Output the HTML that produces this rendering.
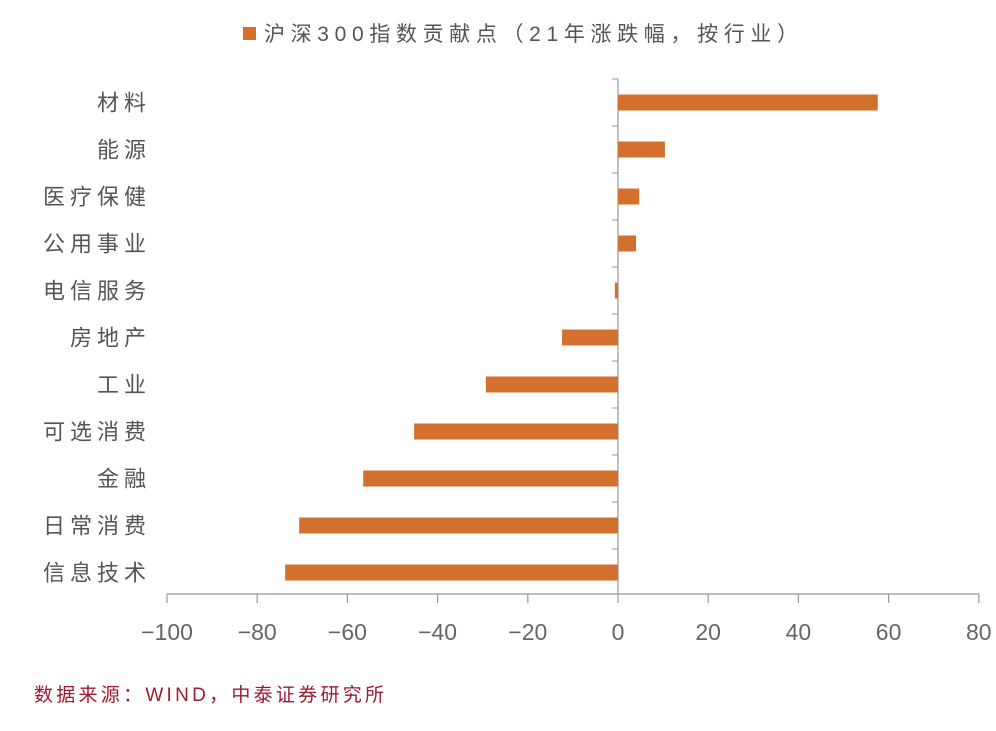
<!DOCTYPE html>
<html><head><meta charset="utf-8"><style>
body{margin:0;background:#fff;width:996px;height:726px;overflow:hidden}
svg{font-family:"Liberation Sans","Noto Sans CJK SC",sans-serif}
</style></head><body>
<svg id="c" width="996" height="726">
<g>
<rect x="243" y="27" width="13" height="13" fill="#d4702e"/>
<text x="264" y="41" font-size="21" fill="#555" textLength="534" lengthAdjust="spacing">沪深300指数贡献点（21年涨跌幅，按行业）</text>
</g>
<text x="34" y="701" font-size="19" fill="#9b1b30" textLength="350" lengthAdjust="spacing">数据来源：WIND，中泰证券研究所</text>
</svg>
<script>
const categories=["材料","能源","医疗保健","公用事业","电信服务","房地产","工业","可选消费","金融","日常消费","信息技术"];
const values=[57.6,10.4,4.7,4.0,-0.7,-12.4,-29.3,-45.2,-56.5,-70.7,-73.8];
const ticks=[-100,-80,-60,-40,-20,0,20,40,60,80];
const tickLabels=["−100","−80","−60","−40","−20","0","20","40","60","80"];
const svg=document.getElementById('c');const NS="http://www.w3.org/2000/svg";
const x=v=>618+(v)*4.51;
const top0=79,step=47,axisY=594;
const y=i=>top0+i*step+step/2;
function mk(t,a){const e=document.createElementNS(NS,t);for(const k in a)e.setAttribute(k,a[k]);svg.appendChild(e);return e;}
const ax=mk('line',{x1:x(-100),x2:x(80),y1:axisY,y2:axisY,stroke:'#999','stroke-width':1.2});


ticks.forEach((t,i)=>{
 const l=mk('line',{x1:x(t),x2:x(t),y1:axisY,y2:axisY+9,stroke:'#999','stroke-width':1.2});
 
 
 const tx=mk('text',{x:x(t),y:axisY+46,'font-size':23,fill:'#666','text-anchor':'middle'});
 tx.textContent=tickLabels[i];
 
 
});
const va=mk('line',{x1:x(0),x2:x(0),y1:top0,y2:axisY,stroke:'#999','stroke-width':1.2});


categories.forEach((c,i)=>{
 const tk=mk('line',{x1:x(0)-6,x2:x(0),y1:top0+i*step,y2:top0+i*step,stroke:'#999','stroke-width':1});
 
 
 const v=values[i];
 const b=mk('rect',{x:Math.min(x(0),x(v)),y:y(i)-8,width:Math.abs(x(v)-x(0)),height:16,fill:'#d4702e'});
 
 
 const n=c.length;
 const t=mk('text',{x:146-(n*27-5),y:y(i)+8,'font-size':22,fill:'#555',textLength:n*27-5,lengthAdjust:'spacing'});
 t.textContent=c;
 
 
});
</script>
</body></html>
